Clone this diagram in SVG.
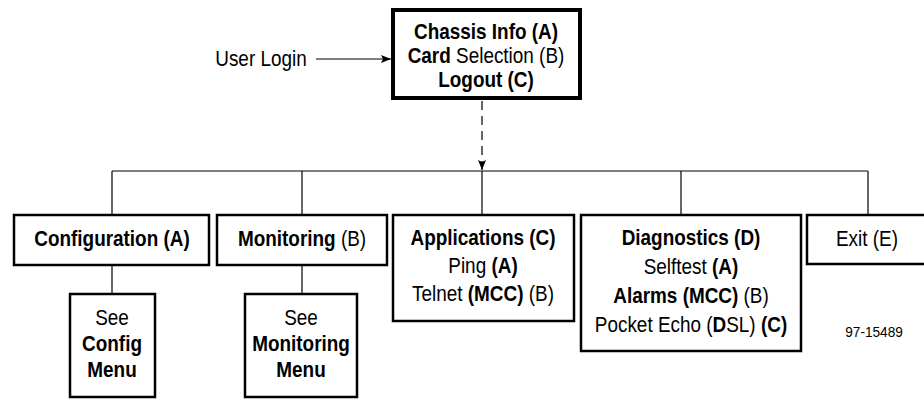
<svg xmlns="http://www.w3.org/2000/svg" width="924" height="399" viewBox="0 0 924 399">
<defs>
<style>
text{font-family:"Liberation Sans",Arial,sans-serif;font-size:21.5px;fill:#000;text-anchor:middle}
.b{font-weight:bold}
.box{fill:#fff;stroke:#000;stroke-width:2.5}
.main{fill:#fff;stroke:#000;stroke-width:4}
.ln{fill:none;stroke:#000;stroke-width:1.2}
.small{font-size:15.5px}
</style>
<marker id="ah" markerWidth="10" markerHeight="8" refX="10" refY="4" orient="auto" markerUnits="userSpaceOnUse">
<path d="M0,0 L10,4 L0,8 L2,4 Z" fill="#000"/>
</marker>
</defs>
<rect width="924" height="399" fill="#fff"/>
<g id="connectors">
<line class="ln" x1="316" y1="59" x2="391" y2="59" marker-end="url(#ah)"/>
<line class="ln" x1="482" y1="101" x2="482" y2="170" stroke-dasharray="9,6" marker-end="url(#ah)"/>
<line class="ln" x1="112" y1="171" x2="868" y2="171"/>
<line class="ln" x1="112" y1="171" x2="112" y2="215"/>
<line class="ln" x1="302" y1="171" x2="302" y2="215"/>
<line class="ln" x1="482" y1="171" x2="482" y2="215"/>
<line class="ln" x1="681" y1="171" x2="681" y2="215"/>
<line class="ln" x1="868" y1="171" x2="868" y2="215"/>
<line class="ln" x1="112" y1="265" x2="112" y2="294"/>
<line class="ln" x1="302" y1="265" x2="302" y2="294"/>
</g>
<g id="userlogin">
<text transform="matrix(0.88 0 0 1 261 0)" y="66">User Login</text>
</g>
<g id="main">
<rect class="main" x="393" y="10" width="187" height="88"/>
<text transform="matrix(0.88 0 0 1 486 0)" y="39" class="b">Chassis Info (A)</text>
<text transform="matrix(0.88 0 0 1 486 0)" y="63"><tspan class="b">Card</tspan> Selection (B)</text>
<text transform="matrix(0.88 0 0 1 486 0)" y="87" class="b">Logout (C)</text>
</g>
<g id="configuration">
<rect class="box" x="14" y="215" width="195" height="50"/>
<text transform="matrix(0.88 0 0 1 112 0)" y="246" class="b">Configuration (A)</text>
</g>
<g id="monitoring">
<rect class="box" x="217" y="215" width="170" height="50"/>
<text transform="matrix(0.88 0 0 1 302 0)" y="246"><tspan class="b">Monitoring</tspan> (B)</text>
</g>
<g id="applications">
<rect class="box" x="393" y="215" width="181" height="106"/>
<text transform="matrix(0.88 0 0 1 483 0)" y="245" class="b">Applications (C)</text>
<text transform="matrix(0.88 0 0 1 483 0)" y="273">Ping <tspan class="b">(A)</tspan></text>
<text transform="matrix(0.88 0 0 1 483 0)" y="301">Telnet <tspan class="b">(MCC)</tspan> (B)</text>
</g>
<g id="diagnostics">
<rect class="box" x="581" y="215" width="220" height="136"/>
<text transform="matrix(0.88 0 0 1 691 0)" y="245" class="b">Diagnostics (D)</text>
<text transform="matrix(0.88 0 0 1 691 0)" y="274">Selftest <tspan class="b">(A)</tspan></text>
<text transform="matrix(0.88 0 0 1 691 0)" y="303"><tspan class="b">Alarms (MCC)</tspan> (B)</text>
<text transform="matrix(0.88 0 0 1 691 0)" y="332">Pocket Echo (<tspan class="b">D</tspan>SL) <tspan class="b">(C)</tspan></text>
</g>
<g id="exit">
<rect class="box" x="807" y="215" width="122" height="49"/>
<text transform="matrix(0.88 0 0 1 867 0)" y="246">Exit (E)</text>
</g>
<g id="config-menu">
<rect class="box" x="70" y="294" width="85" height="103"/>
<text transform="matrix(0.88 0 0 1 112 0)" y="325">See</text>
<text transform="matrix(0.88 0 0 1 112 0)" y="351" class="b">Config</text>
<text transform="matrix(0.88 0 0 1 112 0)" y="377" class="b">Menu</text>
</g>
<g id="monitoring-menu">
<rect class="box" x="245" y="294" width="112" height="103"/>
<text transform="matrix(0.88 0 0 1 301 0)" y="325">See</text>
<text transform="matrix(0.88 0 0 1 301 0)" y="351" class="b">Monitoring</text>
<text transform="matrix(0.88 0 0 1 301 0)" y="377" class="b">Menu</text>
</g>
<text transform="matrix(0.88 0 0 1 874 0)" y="337" class="small">97-15489</text>
</svg>
